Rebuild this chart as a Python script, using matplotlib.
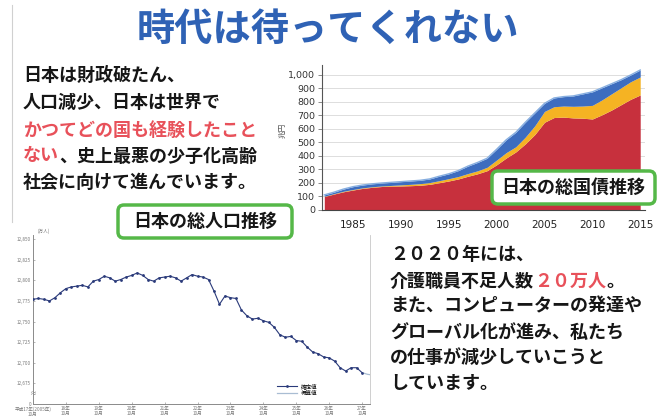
"""
Slide: 時代は待ってくれない (debt + population charts with text)
"""
import numpy as np
import matplotlib
matplotlib.use("Agg")
import matplotlib.pyplot as plt
from matplotlib.patches import FancyBboxPatch
from matplotlib.lines import Line2D
from matplotlib.transforms import ScaledTranslation

plt.rcParams['font.family'] = ['Noto Sans CJK JP', 'DejaVu Sans']

W, H = 660, 418

# 日本の総国債推移 (兆円)
debt_years = list(range(1982, 2016))
debt_red = [100, 118, 135, 148, 160, 168, 174, 177, 178, 180, 183, 190, 202, 215,
            230, 250, 268, 291, 335, 385, 430, 490, 560, 650, 685, 688, 682, 680,
            674, 705, 740, 780, 820, 852]
debt_yellow_top = [102, 121, 139, 152, 164, 172, 178, 182, 186, 190, 195, 203, 217, 232,
                   248, 270, 290, 316, 370, 425, 468, 540, 625, 730, 765, 770, 768, 770,
                   775, 815, 860, 905, 950, 985]
debt_total = [112, 132, 155, 173, 185, 194, 200, 205, 210, 215, 220, 230, 250, 268,
              292, 325, 352, 383, 450, 520, 575, 650, 720, 790, 830, 840, 845, 860,
              875, 905, 935, 965, 1000, 1037]
debt_yticks = list(range(0, 1001, 100))
debt_xticks = [1985, 1990, 1995, 2000, 2005, 2010, 2015]

# 日本の総人口推移 (万人), 2ヶ月毎, 2005年から
pop_values = [12777, 12778, 12777, 12775, 12779, 12785, 12790, 12792, 12793, 12794,
              12792, 12799, 12801, 12805, 12803, 12799, 12801, 12804, 12806, 12809,
              12806, 12801, 12799, 12803, 12804, 12805, 12803, 12799, 12803, 12807,
              12805, 12804, 12801, 12787, 12771, 12781, 12779, 12778, 12764, 12757,
              12753, 12754, 12751, 12749, 12743, 12734, 12731, 12732, 12727, 12726,
              12719, 12713, 12711, 12707, 12706, 12702, 12694, 12690, 12694, 12694,
              12688]
pop_estimate = [12688, 12686, 12685]
pop_yticks = [12650, 12675, 12700, 12725, 12750, 12775, 12800, 12825, 12850]
pop_ylabels = ['0', '12,675', '12,700', '12,725', '12,750', '12,775', '12,800',
               '12,825', '12,850']
pop_xticks = list(range(2005, 2016))
pop_xlabels = ['平成17年(2005年)\n10月'] + [f'{y - 1988}年\n10月' for y in pop_xticks[1:]]

left_lines = ['日本は財政破たん、', '人口減少、日本は世界で', 'かつてどの国も経験したこと',
              None, '社会に向けて進んでいます。']
right_lines = ['２０２０年には、', None, 'また、コンピューターの発達や',
               'グローバル化が進み、私たち', 'の仕事が減少していこうと', 'しています。']

BLUE_T = '#2f62b5'
PINK = '#e8515a'
INK = '#161616'
GREEN = '#55b848'


def rect(l, t, r, b):
    return [l / W, 1 - b / H, (r - l) / W, (b - t) / H]


def ftext(x, y, s, em=0, size=13, **kw):
    tr = plt.gcf().transFigure + ScaledTranslation(em * size / 72, 0,
                                                   plt.gcf().dpi_scale_trans)
    return plt.gcf().text(x / W, 1 - y / H, s, transform=tr, size=size, va='center',
                          ha='left', weight='bold', **kw)


fig = plt.figure(figsize=(W / 100, H / 100), dpi=100)
fig.patch.set_facecolor('white')

# ---- debt chart
ax = fig.add_axes(rect(322, 65, 645, 210))
red = np.array(debt_red)
yel = np.array(debt_yellow_top)
tot = np.array(debt_total)
ax.fill_between(debt_years, 0, red, color='#c7303d', lw=0, zorder=2)
ax.fill_between(debt_years, red, yel, color='#f5b323', lw=0, zorder=2)
ax.fill_between(debt_years, yel, tot, color='#3d6dbf', lw=0, zorder=2)
ax.plot(debt_years, tot, color='#86aee0', lw=1.0, zorder=3)
ax.set_xlim(1981.76, 2015.5)
ax.set_ylim(0, 1074)
ax.set_yticks(debt_yticks)
ax.set_yticklabels([f'{v:,}' for v in debt_yticks], fontfamily='DejaVu Sans',
                   fontsize=6.8, color='#333333')
ax.set_xticks(debt_xticks)
ax.set_xticklabels([str(v) for v in debt_xticks], fontfamily='DejaVu Sans',
                   fontsize=7.5, color='#222222')
ax.grid(axis='y', color='#d8d8d8', lw=0.6, zorder=0)
for s in ['top', 'right']:
    ax.spines[s].set_visible(False)
ax.spines['left'].set_color('#555555')
ax.spines['bottom'].set_color('#444444')
ax.tick_params(axis='y', length=3, width=0.6, color='#777777', pad=2)
ax.tick_params(axis='x', length=0, pad=7)
ax.set_facecolor('white')
fig.text(283 / W, 1 - 130 / H, '兆円', rotation=90, size=5.5, color='#555555',
         ha='center', va='center')

# ---- population chart
ax2 = fig.add_axes(rect(33, 235, 370, 404))
n = len(pop_values)
px = 2005 + np.arange(n) * 2 / 12
pe = 2005 + (np.arange(len(pop_estimate)) + n - 1) * 2 / 12
ax2.plot(pe, pop_estimate, color='#a9bdd3', lw=0.9, label='概算値', zorder=2)
ax2.plot(px, pop_values, color='#2a3a7a', lw=0.8, marker='o', ms=2.0, mew=0,
         label='確定値', zorder=3)
ax2.set_xlim(2005, 2015.24)
ax2.set_ylim(12650, 12855)
ax2.set_yticks(pop_yticks)
ax2.set_yticklabels(pop_ylabels, fontsize=3.3, color='#777777')
ax2.set_xticks(pop_xticks)
ax2.set_xticklabels(pop_xlabels, fontsize=3.3, color='#777777', linespacing=1.0)
ax2.tick_params(length=1.5, width=0.5, color='#999999', pad=1.5, direction='in')
ax2.spines['top'].set_visible(False)
for s in ['left', 'bottom']:
    ax2.spines[s].set_color('#8a8a8a')
    ax2.spines[s].set_linewidth(0.7)
ax2.spines['right'].set_color('#c8c8c8')
ax2.spines['right'].set_linewidth(0.6)
h, l = ax2.get_legend_handles_labels()
ax2.legend(h[::-1], l[::-1], loc='lower left', bbox_to_anchor=(0.71, 0.02),
           frameon=False, fontsize=4, handlelength=3.5, labelspacing=0.3,
           handletextpad=0.8)
fig.text(38 / W, 1 - 231 / H, '(万人)', size=3.3, color='#777777', ha='left',
         va='center')
fig.text(33 / W, 1 - 394 / H, '≈', size=5, color='#8a8a8a', ha='center',
         va='center')

# ---- slide edge
fig.add_artist(Line2D([12 / W, 12 / W], [1 - 5 / H, 1 - 222 / H], color='#d0d0d0',
                      lw=0.8))

# ---- title
fig.text(328 / W, 1 - 29 / H, '時代は待ってくれない', size=27.5, weight='bold',
         color=BLUE_T, ha='center', va='center')

# ---- left text
left_y = [75, 102, 130, 156, 182]
for s, y in zip(left_lines, left_y):
    if s is None:
        ftext(23, y, 'ない', color=PINK)
        ftext(23, y, '、史上最悪の少子化高齢', em=2, color=INK)
    else:
        ftext(23, y, s, color=PINK if s.startswith('かつて') else INK)

# ---- right text
right_y = [255, 281, 306, 332, 357, 383]
for s, y in zip(right_lines, right_y):
    if s is None:
        ftext(390, y, '介護職員不足人数', color=INK)
        ftext(390, y, '２０万人', em=8, color=PINK)
        ftext(390, y, '。', em=12, color=INK)
    else:
        ftext(390, y, s, color=INK)

# ---- green label boxes
for (l, t, r, b), label in [((118, 205, 292, 238), '日本の総人口推移'),
                            ((492, 171, 655, 204), '日本の総国債推移')]:
    box = FancyBboxPatch((l / 100, (H - b) / 100), (r - l) / 100, (b - t) / 100,
                         boxstyle='round,pad=0,rounding_size=0.06',
                         transform=fig.dpi_scale_trans, fc='white', ec=GREEN,
                         lw=2.5, zorder=4)
    fig.add_artist(box)
    fig.text((l + r) / 2 / W, 1 - (t + b) / 2 / H, label, size=13, weight='bold',
             color=INK, ha='center', va='center', zorder=5)

fig.savefig('out.png', dpi=100)
